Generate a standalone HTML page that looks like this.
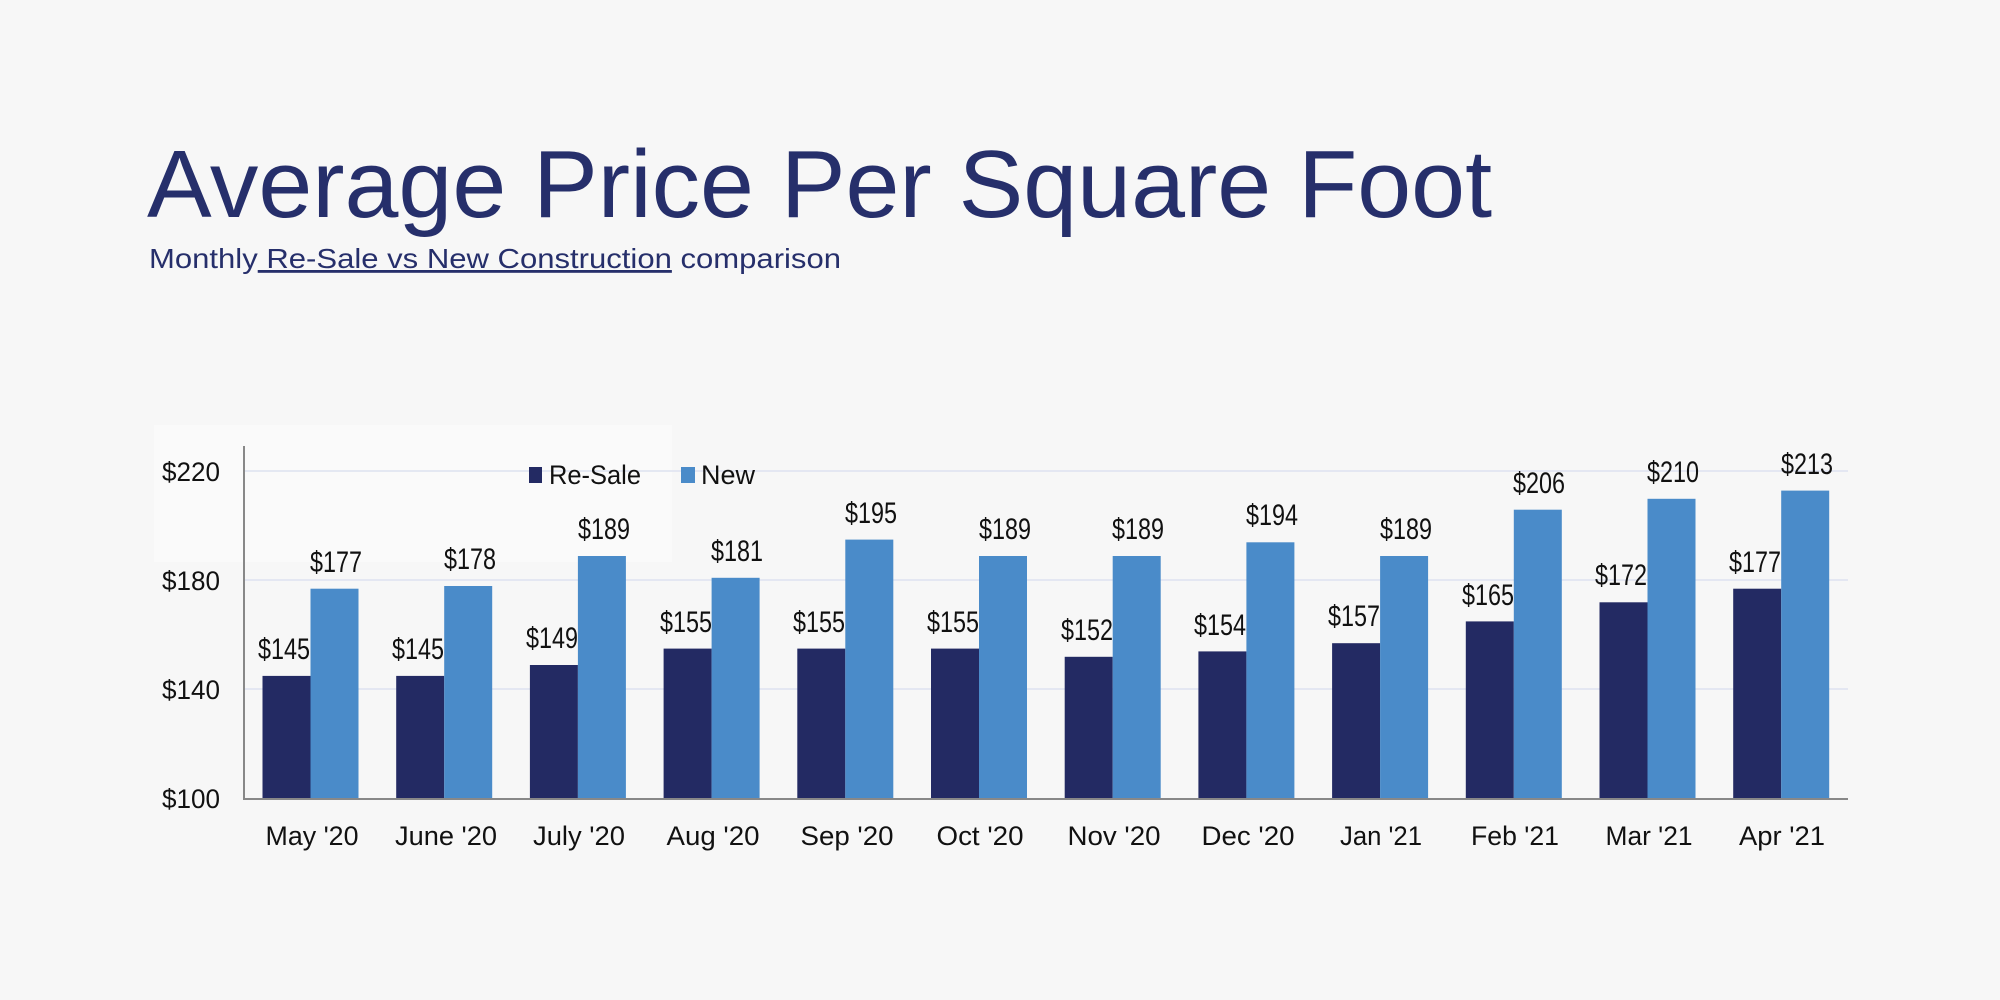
<!DOCTYPE html>
<html><head><meta charset="utf-8"><style>
html,body{margin:0;padding:0;background:#f7f7f7;}
svg{display:block}
text{font-family:"Liberation Sans",sans-serif;}
</style></head><body>
<svg width="2000" height="1000" viewBox="0 0 2000 1000">
<rect width="2000" height="1000" fill="#f7f7f7"/>
<rect x="154" y="425" width="518" height="137" fill="#fafafa"/>
<text x="147" y="217" font-size="96" fill="#262f6b" textLength="1345" lengthAdjust="spacingAndGlyphs">Average Price Per Square Foot</text>
<text x="149" y="268" font-size="28" fill="#262f6b" textLength="692" lengthAdjust="spacingAndGlyphs">Monthly<tspan text-decoration="underline"> Re-Sale vs New Construction</tspan> comparison</text>
<g stroke="#dde2f0" stroke-width="1.5">
<line x1="244" y1="471" x2="1848" y2="471"/>
<line x1="244" y1="580" x2="1848" y2="580"/>
<line x1="244" y1="689" x2="1848" y2="689"/>
</g>
<g font-size="27" fill="#111" text-anchor="end">
<text x="220" y="481" textLength="58" lengthAdjust="spacingAndGlyphs">$220</text>
<text x="220" y="590" textLength="58" lengthAdjust="spacingAndGlyphs">$180</text>
<text x="220" y="699" textLength="58" lengthAdjust="spacingAndGlyphs">$140</text>
<text x="220" y="808" textLength="58" lengthAdjust="spacingAndGlyphs">$100</text>
</g>
<rect x="529" y="467" width="13" height="16" fill="#232a63"/>
<text x="549" y="484" font-size="27" fill="#111" textLength="92" lengthAdjust="spacingAndGlyphs">Re-Sale</text>
<rect x="681" y="467" width="14" height="16" fill="#4a8bc9"/>
<text x="701" y="484" font-size="27" fill="#111" textLength="54" lengthAdjust="spacingAndGlyphs">New</text>
<g fill="#232a63">
<rect x="262.5" y="675.9" width="48" height="122.6"/>
<rect x="396.2" y="675.9" width="48" height="122.6"/>
<rect x="529.9" y="665.0" width="48" height="133.5"/>
<rect x="663.6" y="648.6" width="48" height="149.9"/>
<rect x="797.3" y="648.6" width="48" height="149.9"/>
<rect x="931" y="648.6" width="48" height="149.9"/>
<rect x="1064.7" y="656.8" width="48" height="141.7"/>
<rect x="1198.4" y="651.4" width="48" height="147.1"/>
<rect x="1332.1" y="643.2" width="48" height="155.3"/>
<rect x="1465.8" y="621.4" width="48" height="177.1"/>
<rect x="1599.5" y="602.3" width="48" height="196.2"/>
<rect x="1733.2" y="588.7" width="48" height="209.8"/>
</g>
<g fill="#4a8bc9">
<rect x="310.5" y="588.7" width="48" height="209.8"/>
<rect x="444.2" y="586.0" width="48" height="212.5"/>
<rect x="577.9" y="556.0" width="48" height="242.5"/>
<rect x="711.6" y="577.8" width="48" height="220.7"/>
<rect x="845.3" y="539.6" width="48" height="258.9"/>
<rect x="979" y="556.0" width="48" height="242.5"/>
<rect x="1112.7" y="556.0" width="48" height="242.5"/>
<rect x="1246.4" y="542.3" width="48" height="256.2"/>
<rect x="1380.1" y="556.0" width="48" height="242.5"/>
<rect x="1513.8" y="509.7" width="48" height="288.8"/>
<rect x="1647.5" y="498.8" width="48" height="299.7"/>
<rect x="1781.2" y="490.6" width="48" height="307.9"/>
</g>
<line x1="244" y1="446" x2="244" y2="799" stroke="#888" stroke-width="2"/>
<line x1="243" y1="799" x2="1848" y2="799" stroke="#888" stroke-width="2"/>
<g font-size="30" fill="#111" text-anchor="middle">
<text x="284" y="659" textLength="52" lengthAdjust="spacingAndGlyphs">$145</text>
<text x="418" y="659" textLength="52" lengthAdjust="spacingAndGlyphs">$145</text>
<text x="552" y="648" textLength="52" lengthAdjust="spacingAndGlyphs">$149</text>
<text x="686" y="632" textLength="52" lengthAdjust="spacingAndGlyphs">$155</text>
<text x="819" y="632" textLength="52" lengthAdjust="spacingAndGlyphs">$155</text>
<text x="953" y="632" textLength="52" lengthAdjust="spacingAndGlyphs">$155</text>
<text x="1087" y="640" textLength="52" lengthAdjust="spacingAndGlyphs">$152</text>
<text x="1220" y="635" textLength="52" lengthAdjust="spacingAndGlyphs">$154</text>
<text x="1354" y="626" textLength="52" lengthAdjust="spacingAndGlyphs">$157</text>
<text x="1488" y="605" textLength="52" lengthAdjust="spacingAndGlyphs">$165</text>
<text x="1621" y="585" textLength="52" lengthAdjust="spacingAndGlyphs">$172</text>
<text x="1755" y="572" textLength="52" lengthAdjust="spacingAndGlyphs">$177</text>
<text x="336" y="572" textLength="52" lengthAdjust="spacingAndGlyphs">$177</text>
<text x="470" y="569" textLength="52" lengthAdjust="spacingAndGlyphs">$178</text>
<text x="604" y="539" textLength="52" lengthAdjust="spacingAndGlyphs">$189</text>
<text x="737" y="561" textLength="52" lengthAdjust="spacingAndGlyphs">$181</text>
<text x="871" y="523" textLength="52" lengthAdjust="spacingAndGlyphs">$195</text>
<text x="1005" y="539" textLength="52" lengthAdjust="spacingAndGlyphs">$189</text>
<text x="1138" y="539" textLength="52" lengthAdjust="spacingAndGlyphs">$189</text>
<text x="1272" y="525" textLength="52" lengthAdjust="spacingAndGlyphs">$194</text>
<text x="1406" y="539" textLength="52" lengthAdjust="spacingAndGlyphs">$189</text>
<text x="1539" y="493" textLength="52" lengthAdjust="spacingAndGlyphs">$206</text>
<text x="1673" y="482" textLength="52" lengthAdjust="spacingAndGlyphs">$210</text>
<text x="1807" y="474" textLength="52" lengthAdjust="spacingAndGlyphs">$213</text>
</g>
<g font-size="27" fill="#111" text-anchor="middle">
<text x="312" y="845" textLength="93" lengthAdjust="spacingAndGlyphs">May '20</text>
<text x="446" y="845" textLength="102" lengthAdjust="spacingAndGlyphs">June '20</text>
<text x="579" y="845" textLength="92" lengthAdjust="spacingAndGlyphs">July '20</text>
<text x="713" y="845" textLength="93" lengthAdjust="spacingAndGlyphs">Aug '20</text>
<text x="847" y="845" textLength="93" lengthAdjust="spacingAndGlyphs">Sep '20</text>
<text x="980" y="845" textLength="87" lengthAdjust="spacingAndGlyphs">Oct '20</text>
<text x="1114" y="845" textLength="93" lengthAdjust="spacingAndGlyphs">Nov '20</text>
<text x="1248" y="845" textLength="93" lengthAdjust="spacingAndGlyphs">Dec '20</text>
<text x="1381" y="845" textLength="82" lengthAdjust="spacingAndGlyphs">Jan '21</text>
<text x="1515" y="845" textLength="88" lengthAdjust="spacingAndGlyphs">Feb '21</text>
<text x="1649" y="845" textLength="87" lengthAdjust="spacingAndGlyphs">Mar '21</text>
<text x="1782" y="845" textLength="86" lengthAdjust="spacingAndGlyphs">Apr '21</text>
</g>
</svg>
</body></html>
